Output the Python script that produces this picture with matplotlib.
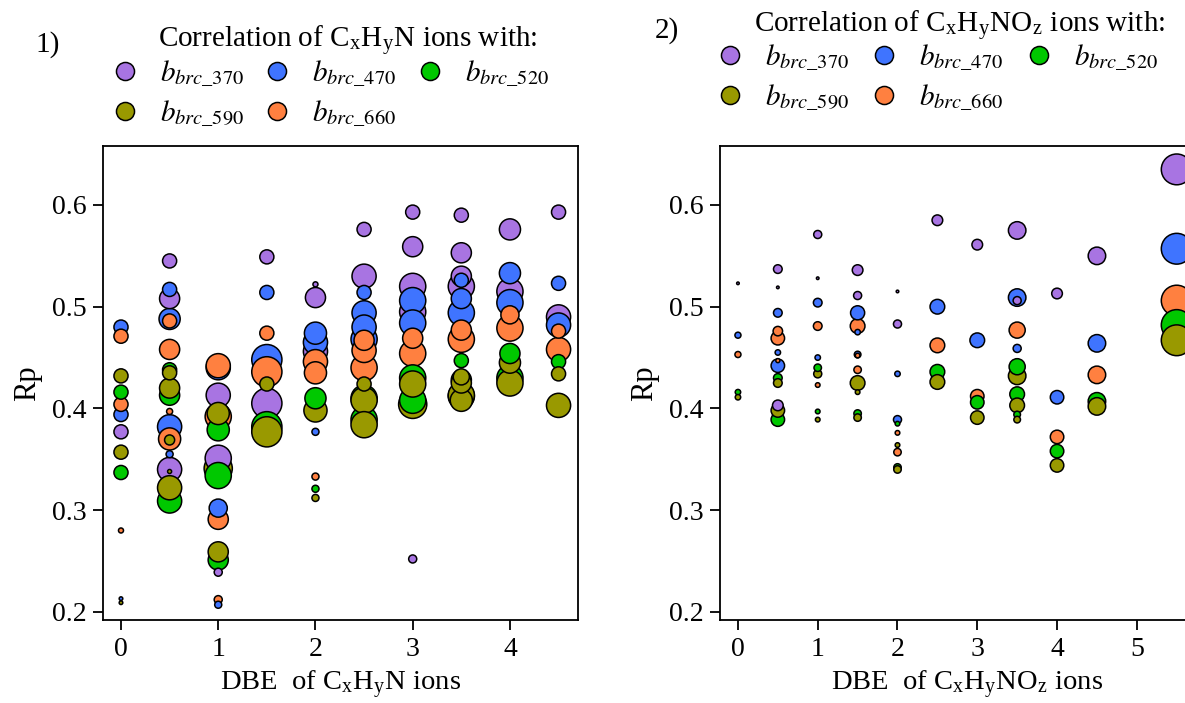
import matplotlib.pyplot as plt
from matplotlib.lines import Line2D

plt.rcParams["font.family"] = ["Liberation Serif", "DejaVu Serif"]
plt.rcParams["mathtext.fontset"] = "stix"

# series keys (absorption wavelength of b_brc) and their colours
bands = ["370", "470", "520", "590", "660"]
colors = {
    "370": "#a874e2",
    "470": "#3f74ff",
    "520": "#00c800",
    "590": "#999900",
    "660": "#ff8040",
}
# overlap order when two bubbles have the same size
stack_rank = {"370": 0, "470": 1, "660": 2, "520": 3, "590": 4}

# ---- panel 1: CxHyN ions, (DBE, Rp, bubble magnitude) ----
n_370 = [(0, 0.377, 7), (0.5, 0.545, 7), (0.5, 0.508, 10), (0.5, 0.340, 12),
         (1, 0.413, 12), (1, 0.351, 13), (1, 0.239, 4), (1.5, 0.549, 7),
         (1.5, 0.405, 15), (2, 0.522, 2.5), (2, 0.509, 10), (2, 0.456, 12),
         (2.5, 0.576, 7), (2.5, 0.530, 12), (3, 0.593, 7), (3, 0.559, 10),
         (3, 0.520, 13), (3, 0.495, 13), (3, 0.252, 4), (3.5, 0.590, 7),
         (3.5, 0.553, 10), (3.5, 0.530, 10), (3.5, 0.520, 13), (4, 0.576, 10.5),
         (4, 0.515, 13), (4.5, 0.593, 7), (4.5, 0.490, 12)]
n_470 = [(0, 0.480, 7), (0, 0.394, 7), (0, 0.213, 1.8), (0.5, 0.517, 7),
         (0.5, 0.488, 10.5), (0.5, 0.382, 12), (0.5, 0.355, 3.5), (1, 0.440, 12),
         (1, 0.302, 9), (1, 0.207, 3.5), (1.5, 0.514, 7), (1.5, 0.448, 15),
         (2, 0.474, 11), (2, 0.465, 12), (2, 0.377, 3.5), (2.5, 0.514, 7),
         (2.5, 0.494, 12), (2.5, 0.480, 12), (2.5, 0.468, 13), (3, 0.506, 13),
         (3, 0.484, 13), (3.5, 0.526, 7), (3.5, 0.508, 10), (3.5, 0.494, 13),
         (4, 0.533, 10.5), (4, 0.504, 13), (4.5, 0.523, 7), (4.5, 0.482, 12)]
n_520 = [(0, 0.416, 7), (0, 0.337, 7), (0.5, 0.438, 7), (0.5, 0.413, 10),
         (0.5, 0.309, 12), (1, 0.379, 11), (1, 0.334, 13), (1, 0.251, 10),
         (1.5, 0.382, 15), (2, 0.410, 10.5), (2, 0.321, 3.5), (2.5, 0.410, 13),
         (2.5, 0.389, 13), (3, 0.430, 13), (3, 0.408, 13), (3.5, 0.447, 7),
         (3.5, 0.428, 10), (3.5, 0.412, 13), (4, 0.454, 10), (4, 0.430, 13),
         (4.5, 0.446, 7)]
n_590 = [(0, 0.432, 7), (0, 0.357, 7), (0, 0.209, 1.8), (0.5, 0.435, 7),
         (0.5, 0.420, 10), (0.5, 0.369, 5), (0.5, 0.338, 2), (0.5, 0.322, 12),
         (1, 0.395, 11), (1, 0.341, 14), (1, 0.259, 10), (1.5, 0.424, 7),
         (1.5, 0.377, 15), (2, 0.398, 11.5), (2, 0.312, 3.5), (2.5, 0.424, 7),
         (2.5, 0.408, 13), (2.5, 0.384, 13), (3, 0.424, 13), (3, 0.404, 14),
         (3.5, 0.431, 8), (3.5, 0.425, 10), (3.5, 0.413, 13), (3.5, 0.408, 11),
         (4, 0.445, 10.5), (4, 0.425, 13), (4.5, 0.434, 7), (4.5, 0.403, 12)]
n_660 = [(0, 0.471, 7), (0, 0.404, 7), (0, 0.280, 2.5), (0.5, 0.486, 7),
         (0.5, 0.458, 10), (0.5, 0.397, 3), (0.5, 0.370, 11), (1, 0.442, 12),
         (1, 0.392, 13), (1, 0.291, 10), (1, 0.212, 4), (1.5, 0.474, 7),
         (1.5, 0.436, 15), (2, 0.446, 12), (2, 0.435, 11), (2, 0.333, 3.5),
         (2.5, 0.467, 10), (2.5, 0.457, 12), (2.5, 0.440, 13), (3, 0.469, 10),
         (3, 0.454, 13), (3.5, 0.477, 10), (3.5, 0.468, 13), (4, 0.492, 9),
         (4, 0.479, 13), (4.5, 0.476, 7), (4.5, 0.458, 12)]

# ---- panel 2: CxHyNOz ions ----
no_370 = [(0, 0.523, 1.3), (0.5, 0.537, 4.3), (0.5, 0.519, 1.3), (0.5, 0.403, 5.3),
          (1, 0.571, 4), (1, 0.528, 1.3), (1.5, 0.536, 5.3), (1.5, 0.511, 4),
          (2, 0.515, 1.3), (2, 0.483, 4), (2.5, 0.585, 5.3), (3, 0.561, 5.3),
          (3.5, 0.575, 8.7), (3.5, 0.506, 4), (4, 0.513, 5.3), (4.5, 0.550, 8.7),
          (5.5, 0.635, 15.3)]
no_470 = [(0, 0.472, 3), (0.5, 0.494, 4.3), (0.5, 0.455, 2.7), (0.5, 0.442, 6.7),
          (1, 0.504, 4.3), (1, 0.450, 2.7), (1.5, 0.494, 7), (1.5, 0.475, 2.7),
          (1.5, 0.453, 3.3), (2, 0.434, 2.7), (2, 0.389, 4), (2.5, 0.500, 7.3),
          (3, 0.467, 7.3), (3.5, 0.509, 8.7), (3.5, 0.459, 4), (4, 0.411, 6.7),
          (4.5, 0.464, 8.7), (5.5, 0.557, 15.3)]
no_520 = [(0, 0.416, 2.7), (0.5, 0.430, 4.3), (0.5, 0.389, 6.7), (1, 0.440, 3.7),
          (1, 0.397, 2.3), (1.5, 0.395, 3.7), (2, 0.385, 2.3), (2, 0.342, 3.7),
          (2.5, 0.436, 7.3), (3, 0.406, 6.7), (3.5, 0.441, 8), (3.5, 0.414, 7.3),
          (3.5, 0.394, 3.3), (4, 0.358, 6.7), (4.5, 0.407, 8.7), (5.5, 0.482, 15.3)]
no_590 = [(0, 0.411, 2.7), (0.5, 0.425, 4.3), (0.5, 0.398, 6.7), (1, 0.434, 4),
          (1, 0.389, 2.3), (1.5, 0.425, 7.3), (1.5, 0.416, 2.3), (1.5, 0.391, 3.7),
          (2, 0.364, 2.3), (2, 0.340, 3.7), (2.5, 0.426, 7.3), (3, 0.391, 6.7),
          (3.5, 0.432, 8.7), (3.5, 0.403, 7.3), (3.5, 0.389, 3.3), (4, 0.344, 6.7),
          (4.5, 0.402, 8.7), (5.5, 0.467, 15.3)]
no_660 = [(0, 0.453, 3), (0.5, 0.476, 4.7), (0.5, 0.469, 6.7), (0.5, 0.447, 2),
          (1, 0.481, 4.3), (1, 0.423, 2.3), (1.5, 0.481, 7.3), (1.5, 0.452, 2.3),
          (1.5, 0.438, 3.7), (2, 0.376, 2.3), (2, 0.357, 3.7), (2.5, 0.462, 7.3),
          (3, 0.412, 6.7), (3.5, 0.477, 8), (4, 0.372, 6.7), (4.5, 0.433, 8.7),
          (5.5, 0.506, 15.3)]

panel1 = {"370": n_370, "470": n_470, "520": n_520, "590": n_590, "660": n_660}
panel2 = {"370": no_370, "470": no_470, "520": no_520, "590": no_590, "660": no_660}

SUB = r"$_\mathregular{%s}$"
ion1 = "C" + SUB % "x" + "H" + SUB % "y" + "N"
ion2 = "C" + SUB % "x" + "H" + SUB % "y" + "NO" + SUB % "z"


def draw_panel(ax, series, xlim, xticks, ion):
    pts = []
    for band in bands:
        for x, y, m in series[band]:
            pts.append((-m, stack_rank[band], x, y, colors[band]))
    pts.sort(key=lambda p: (p[0], p[1]))
    xs = [p[2] for p in pts]
    ys = [p[3] for p in pts]
    ss = [2.1 * p[0] ** 2 for p in pts]
    cs = [p[4] for p in pts]
    ax.scatter(xs, ys, s=ss, c=cs, edgecolors="black", linewidths=1.1, zorder=3)

    ax.set_xlim(*xlim)
    ax.set_ylim(0.192, 0.658)
    ax.set_xticks(xticks)
    ax.set_yticks([0.2, 0.3, 0.4, 0.5, 0.6])
    ax.tick_params(direction="out", length=7, width=1.3, labelsize=20, pad=5)
    for sp in ax.spines.values():
        sp.set_linewidth(1.3)
    ax.set_ylabel("Rp", fontsize=22, labelpad=7)
    ax.set_xlabel("DBE  of " + ion + " ions", fontsize=20.5, labelpad=5)


fig = plt.figure(figsize=(11.85, 7.03), dpi=100)
W, H = 1185.0, 703.0
ax1 = fig.add_axes([103 / W, 1 - 620 / H, 475 / W, 474 / H])
ax2 = fig.add_axes([720 / W, 1 - 620 / H, 495 / W, 474 / H])

draw_panel(ax1, panel1, (-0.185, 4.70), [0, 1, 2, 3, 4], ion1)
draw_panel(ax2, panel2, (-0.225, 5.98), [0, 1, 2, 3, 4, 5], ion2)

# legends: column-major fill with 3 columns -> 370, 470, 520 / 590, 660
leg_order = ["370", "590", "470", "660", "520"]


def make_legend(x0, y0, colsp):
    handles = [Line2D([], [], ls="none", marker="o", markersize=13,
                      markerfacecolor=colors[b], markeredgecolor="black",
                      markeredgewidth=1.1) for b in leg_order]
    labels = [r"$b_{\mathit{brc\_%s}}$" % b for b in leg_order]
    fig.legend(handles, labels, ncol=3, loc="upper left",
               bbox_to_anchor=(x0 / W, 1 - y0 / H), frameon=False, fontsize=21,
               handlelength=1.0, handletextpad=0.7, columnspacing=colsp,
               labelspacing=0.32, borderpad=0, borderaxespad=0)


make_legend(110, 58, 0.66)
make_legend(715, 42, 0.72)

fig.text(348 / W, 1 - 41 / H, "Correlation of " + ion1 + " ions with:",
         ha="center", va="center", fontsize=21)
fig.text(960 / W, 1 - 26 / H, "Correlation of " + ion2 + " ions with:",
         ha="center", va="center", fontsize=21)
fig.text(48 / W, 1 - 45 / H, "1)", ha="center", va="center", fontsize=21)
fig.text(667 / W, 1 - 31 / H, "2)", ha="center", va="center", fontsize=21)

fig.savefig("out.png", dpi=100)
